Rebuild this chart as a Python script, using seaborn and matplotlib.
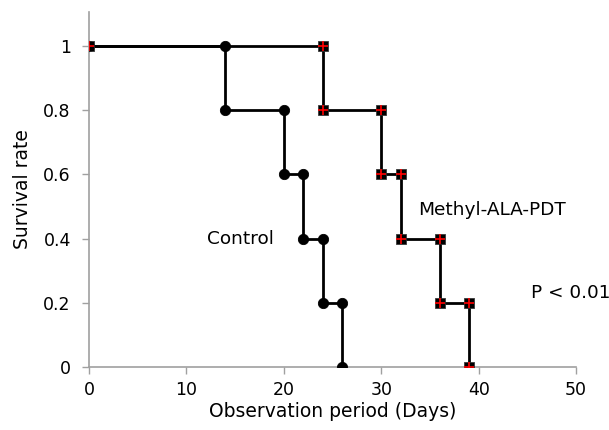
import matplotlib
matplotlib.use("Agg")
import matplotlib.pyplot as plt
import seaborn as sns
import pandas as pd

# Kaplan-Meier step corner points
control_days = [0, 14, 14, 20, 20, 22, 22, 24, 24, 26, 26]
control_surv = [1, 1, 0.8, 0.8, 0.6, 0.6, 0.4, 0.4, 0.2, 0.2, 0]
pdt_days = [0, 24, 24, 30, 30, 32, 32, 36, 36, 39, 39]
pdt_surv = [1, 1, 0.8, 0.8, 0.6, 0.6, 0.4, 0.4, 0.2, 0.2, 0]
x_ticks = [0, 10, 20, 30, 40, 50]
y_ticks = [0, 0.2, 0.4, 0.6, 0.8, 1]
y_tick_labels = ["0", "0.2", "0.4", "0.6", "0.8", "1"]

ctrl = pd.DataFrame({"day": control_days, "surv": control_surv})
pdt = pd.DataFrame({"day": pdt_days, "surv": pdt_surv})

sns.set_style("white")
plt.rcParams["font.family"] = ["DejaVu Sans"]
plt.rcParams["text.color"] = "black"

fig = plt.figure(figsize=(6.09, 4.30), dpi=100)
ax = fig.add_axes([0.146, 0.1465, 0.80, 0.8255])

sns.lineplot(data=ctrl, x="day", y="surv", sort=False, estimator=None,
             color="black", linewidth=2, ax=ax, zorder=2)
sns.lineplot(data=pdt, x="day", y="surv", sort=False, estimator=None,
             color="black", linewidth=2, ax=ax, zorder=2)
sns.scatterplot(data=ctrl, x="day", y="surv", marker="o", s=55,
                color="black", edgecolor="black", ax=ax, zorder=3)
sns.scatterplot(data=pdt, x="day", y="surv", marker="s", s=48,
                color="black", edgecolor="#333333", ax=ax, zorder=4)
sns.scatterplot(data=pdt, x="day", y="surv", marker="+", s=45,
                color="red", linewidth=1.2, ax=ax, zorder=5)

ax.set_xlim(0, 50)
ax.set_ylim(0, 1.106)
ax.set_xticks(x_ticks)
ax.set_yticks(y_ticks)
ax.set_yticklabels(y_tick_labels)
ax.tick_params(axis="both", labelsize=12.5, labelcolor="black")
ax.tick_params(axis="x", length=5, width=1, color="#a0a0a0", direction="out", bottom=True, pad=5)
ax.tick_params(axis="y", length=5, width=1, color="#a0a0a0", direction="out", left=True, pad=8)
ax.set_xlabel("Observation period (Days)", fontsize=13.5, color="black")
ax.set_ylabel("Survival rate", fontsize=13.5, color="black")
ax.yaxis.set_label_coords(-0.117, 0.5)
ax.xaxis.set_label_coords(0.5, -0.099)

for side in ["top", "right"]:
    ax.spines[side].set_visible(False)
for side in ["left", "bottom"]:
    ax.spines[side].set_color("#a0a0a0")
    ax.spines[side].set_linewidth(1.2)

ax.text(15.5, 0.40, "Control", fontsize=13.3, ha="center", va="center", color="black")
ax.text(41.4, 0.49, "Methyl-ALA-PDT", fontsize=13.3, ha="center", va="center", color="black")
ax.text(49.4, 0.23, "P < 0.01", fontsize=13.3, ha="center", va="center", color="black")

fig.savefig("out.png", dpi=100)
